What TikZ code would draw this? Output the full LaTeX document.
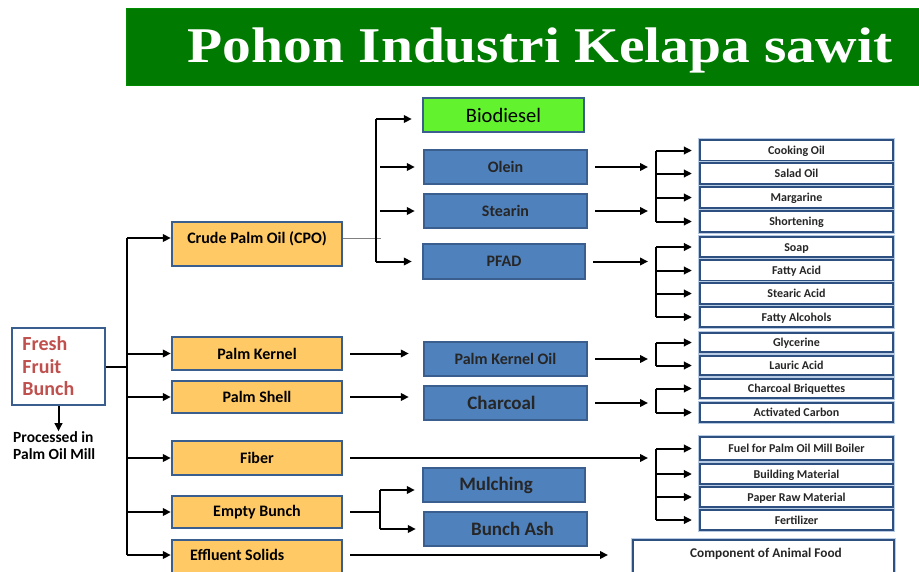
\documentclass[tikz,border=0pt]{standalone}
\usepackage{fontspec}
\setmainfont{Carlito}
\newfontfamily\titlefont{Liberation Serif}
\usetikzlibrary{arrows.meta}
\definecolor{orfill}{HTML}{FFCA66}
\definecolor{blfill}{HTML}{4F81BD}
\definecolor{bordblue}{HTML}{3A5F8E}
\definecolor{wbord}{HTML}{2D5080}
\definecolor{whalo}{HTML}{B8CBE4}
\definecolor{biogreen}{HTML}{62F22E}
\definecolor{titlegreen}{HTML}{007A00}
\definecolor{ffbred}{HTML}{C0504D}
\begin{document}
\begin{tikzpicture}[x=1pt,y=-1pt,
  base/.style={draw=bordblue, line width=2.4pt, inner sep=0pt},
  orangebox/.style={base, fill=orfill, minimum width=170pt, font=\fontsize{16}{17}\selectfont\bfseries},
  bluebox/.style={base, fill=blfill, minimum width=163pt, minimum height=34pt, font=\fontsize{16}{17}\selectfont\bfseries, text=black!85},
  bigblue/.style={bluebox, font=\fontsize{19}{20}\selectfont\bfseries},
  whitebox/.style={preaction={draw=whalo, line width=4pt}, draw=wbord, line width=2.2pt, fill=white, inner sep=0pt, minimum width=193pt, text height=8pt, text depth=0pt, font=\fontsize{12}{13}\selectfont\bfseries, text=black!85},
  ln/.style={line width=2pt},
  arr/.style={ln, -{Triangle[length=8pt,width=7.5pt]}}
]
\useasboundingbox (0,0) rectangle (919,571);
\clip (0,0) rectangle (919,571);
\fill[white] (0,0) rectangle (919,571);

% title
\node[fill=titlegreen, draw=green!55!black, line width=0.6pt, minimum width=793pt, minimum height=77pt, inner sep=0pt, anchor=north west] (tbar) at (126,8) {};
\node[anchor=base, text=white, inner sep=0pt, font=\titlefont\fontsize{50}{55}\selectfont\bfseries] (title) at (540,62) {\scalebox{1.15}[1]{Pohon Industri Kelapa sawit}};

% source
\node[base, fill=white, minimum width=93pt, minimum height=77pt, text width=72pt, align=left, font=\fontsize{20}{22.5}\selectfont\bfseries, text=ffbred] (ffb) at (58.5,366.5) {Fresh\\Fruit\\Bunch};
\node[anchor=north west, align=left, inner sep=0pt, font=\fontsize{15.5}{17}\selectfont\bfseries] (proc) at (13,431) {Processed in\\Palm Oil Mill};

% first level
\node[orangebox, minimum height=44pt, text height=11pt, text depth=13pt] (cpo) at (257,244) {Crude Palm Oil (CPO)};
\node[orangebox, minimum height=33pt] (pk) at (257,353.5) {Palm Kernel};
\node[orangebox, minimum height=32pt] (ps) at (257,397) {Palm Shell};
\node[orangebox, minimum height=34pt] (fib) at (257,458) {Fiber};
\node[orangebox, minimum height=32pt] (eb) at (257,512) {Empty Bunch};
\node[orangebox, minimum height=38pt] (eff) at (257,559) {};
\node[anchor=west, inner sep=0pt, font=\fontsize{16}{17}\selectfont\bfseries] (efft) at (190,555) {Effluent Solids};

% second level
\node[base, fill=biogreen, minimum width=161pt, minimum height=34pt, font=\fontsize{20.5}{22}\selectfont] (bio) at (503.5,115) {Biodiesel};
\node[bluebox] (olein) at (505.5,167) {Olein};
\node[bluebox] (stearin) at (505.5,211) {Stearin};
\node[bluebox, minimum width=162pt, minimum height=35pt] (pfad) at (504,261.5) {PFAD};
\node[bluebox] (pko) at (505.5,359) {Palm Kernel Oil};
\node[bigblue, text height=13pt, text depth=0pt] (charc) at (505.5,403) {Charcoal\hspace*{8pt}};
\node[bigblue, minimum width=162pt] (mulch) at (504,485) {Mulching\hspace*{16pt}};
\node[bigblue, text height=13pt, text depth=0pt] (ash) at (505.5,529) {\hspace*{14pt}Bunch Ash};

% third level
\node[whitebox, minimum height=21pt] (cook) at (796.5,150.5) {Cooking Oil};
\node[whitebox, minimum height=21pt] (salad) at (796.5,173.5) {Salad Oil};
\node[whitebox, minimum height=21pt] (marg) at (796.5,197.5) {Margarine};
\node[whitebox, minimum height=21pt] (short) at (796.5,221.5) {Shortening};
\node[whitebox, minimum height=20pt] (soap) at (796.5,247) {Soap};
\node[whitebox, minimum height=21pt] (facid) at (796.5,270.5) {Fatty Acid};
\node[whitebox, minimum height=21pt] (stacid) at (796.5,293.5) {Stearic Acid};
\node[whitebox, minimum height=20pt] (falc) at (796.5,317) {Fatty Alcohols};
\node[whitebox, minimum height=19pt] (gly) at (796.5,342.5) {Glycerine};
\node[whitebox, minimum height=19pt] (laur) at (796.5,365.5) {Lauric Acid};
\node[whitebox, minimum height=19pt] (cbri) at (796.5,388.5) {Charcoal Briquettes};
\node[whitebox, minimum height=19pt] (actc) at (796.5,412.5) {Activated Carbon};
\node[whitebox, minimum height=23pt] (fuel) at (796.5,448.5) {Fuel for Palm Oil Mill Boiler};
\node[whitebox, minimum height=20pt] (build) at (796.5,474) {Building Material};
\node[whitebox, minimum height=20pt] (paper) at (796.5,497) {Paper Raw Material};
\node[whitebox, minimum height=20pt] (fert) at (796.5,520) {Fertilizer};
\node[whitebox, minimum width=261pt, minimum height=46pt, anchor=north west] (afood) at (632,539) {};
\node[inner sep=0pt, font=\fontsize{13.3}{14}\selectfont\bfseries, text=black!85] (afoodt) at (766,554) {Component of Animal Food};

% connectors: source to first level
\coordinate (tr) at (127,0);
\coordinate (cpoa) at ([yshift=6pt]cpo.west);
\coordinate (cpob) at ([yshift=6pt]cpo.east);
\draw[ln] (ffb.east) -- (tr |- ffb.east);
\draw[ln] (tr |- cpoa) -- (tr |- efft);
\draw[arr] (tr |- cpoa) -- (cpoa);
\foreach \n in {pk,ps,fib,eb} \draw[arr] (tr |- \n) -- (\n);
\draw[arr] (tr |- efft) -- (eff.west |- efft);
\draw[arr] (ffb.south) -- ++(0,25);

% CPO branch
\coordinate (v1) at (376,0);
\coordinate (bioa) at ([yshift=-4pt]bio.west);
\draw[gray, line width=0.8pt] (cpob) -- ++(38,0);
\draw[ln] (v1 |- bioa) -- (v1 |- pfad);
\draw[arr, shorten >=10pt] (v1 |- bioa) -- (bioa);
\draw[arr, shorten <=4pt, shorten >=8pt] (v1 |- olein) -- (olein.west);
\draw[arr, shorten <=4pt, shorten >=8pt] (v1 |- stearin) -- (stearin.west);
\draw[arr, shorten >=10pt] (v1 |- pfad) -- (pfad.west);

% other first-level branches
\draw[arr, shorten <=7pt, shorten >=14pt] (pk.east) -- (pk.east -| pko.west);
\draw[arr, shorten <=7pt, shorten >=14pt] (ps.east) -- (ps.east -| charc.west);
\coordinate (bx) at (656,0);
\draw[arr, shorten <=7pt, shorten >=8pt] (fib.east) -- (fib.east -| bx);
\coordinate (v2) at (380,0);
\coordinate (mula) at ([yshift=-5pt]mulch.west);
\draw[ln, shorten <=7pt] (eb.east) -- (v2 |- eb);
\draw[ln] (v2 |- mula) -- (v2 |- ash);
\draw[arr, shorten >=7pt] (v2 |- mula) -- (mula);
\draw[arr, shorten >=7pt] (v2 |- ash) -- (ash.west);
\coordinate (effend) at (608,555);
\draw[arr, shorten <=7pt] (eff.east |- efft) -- (effend);

% second to third level
\foreach \s in {olein,stearin,pfad,pko,charc}
  \draw[arr, shorten <=7pt, shorten >=8pt] (\s.east) -- (\s.east -| bx);
\draw[ln] (bx |- cook) -- (bx |- short);
\draw[ln] (bx |- soap) -- (bx |- falc);
\draw[ln] (bx |- gly) -- (bx |- laur);
\draw[ln] (bx |- cbri) -- (bx |- actc);
\draw[ln] (bx |- fuel) -- (bx |- fert);
\foreach \t in {cook,salad,marg,short,soap,facid,stacid,falc,gly,laur,cbri,actc,fuel,build,paper,fert}
  \draw[arr, shorten >=7pt] (bx |- \t) -- (\t.west);
\end{tikzpicture}
\end{document}
